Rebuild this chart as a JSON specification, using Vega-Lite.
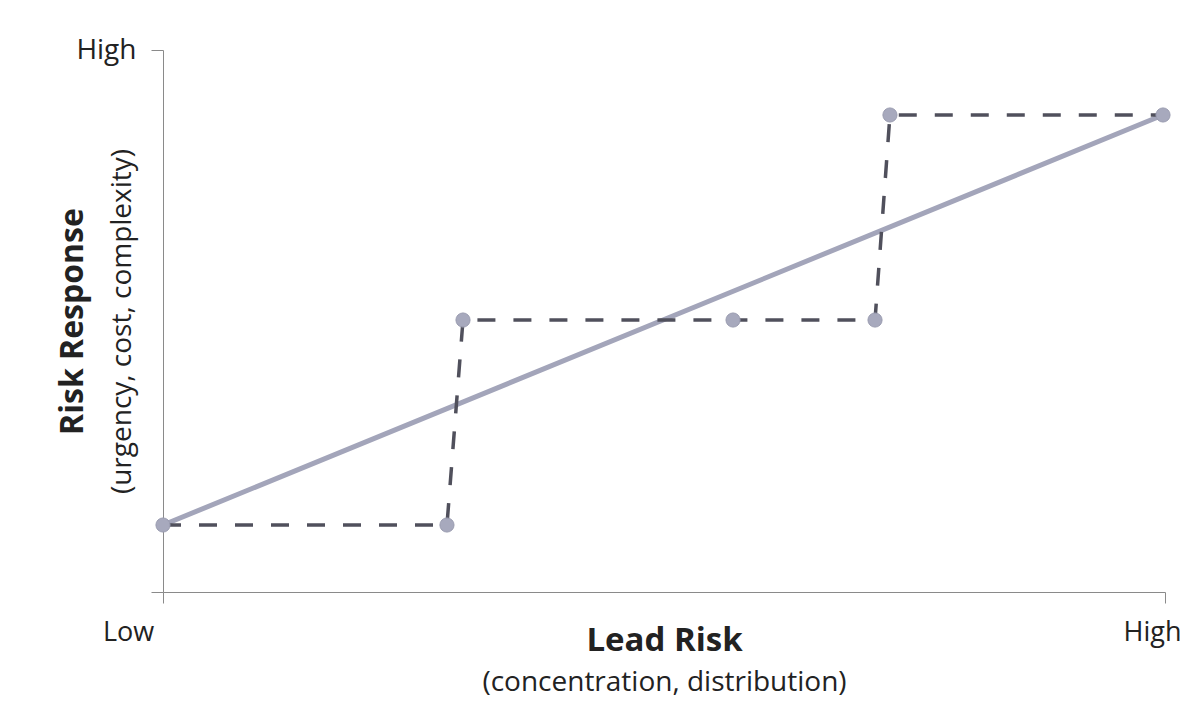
{
  "$schema": "https://vega.github.io/schema/vega-lite/v6.json",
  "width": 1002,
  "height": 542,
  "autosize": {"type": "none"},
  "padding": {"left": 163, "top": 50, "right": 23, "bottom": 135},
  "background": "#ffffff",
  "config": {
    "view": {"stroke": null},
    "font": "Open Sans",
    "axis": {"grid": false, "domainColor": "#8a8a8a", "tickColor": "#8a8a8a", "labelFont": "Open Sans", "titleFont": "Open Sans", "labelColor": "#222222", "titleColor": "#222222"}
  },
  "datasets": {
    "trend": [
      {"lead": 0.0, "response": 0.1236},
      {"lead": 0.998, "response": 0.8801}
    ],
    "step": [
      {"order": 1, "lead": 0.0, "response": 0.1236},
      {"order": 2, "lead": 0.2834, "response": 0.1236},
      {"order": 3, "lead": 0.2994, "response": 0.5018},
      {"order": 4, "lead": 0.5689, "response": 0.5018},
      {"order": 5, "lead": 0.7106, "response": 0.5018},
      {"order": 6, "lead": 0.7255, "response": 0.8801},
      {"order": 7, "lead": 0.998, "response": 0.8801}
    ]
  },
  "resolve": {"axis": {"x": "independent", "y": "independent"}},
  "layer": [
    {
      "data": {"name": "trend"},
      "mark": {"type": "line", "color": "#a3a5ba", "strokeWidth": 5, "strokeCap": "round"},
      "encoding": {
        "x": {
          "field": "lead", "type": "quantitative",
          "scale": {"domain": [0, 1], "nice": false, "zero": false},
          "axis": {
            "orient": "bottom",
            "values": [0, 1],
            "labelExpr": "datum.value == 0 ? 'Low' : 'High'",
            "labelFontSize": 27,
            "labelAlign": "center",
            "labelBaseline": "alphabetic",
            "labelPadding": 37,
            "labelOffset": {"expr": "datum.value == 0 ? -35 : -13"},
            "tickSize": 11,
            "labelFlush": false,
            "labelOverlap": false,
            "title": "Lead Risk",
            "titleFontSize": 33,
            "titleFontWeight": "bold",
            "titleBaseline": "alphabetic",
            "titleAnchor": "middle",
            "titleX": 501,
            "titleY": 58
          }
        },
        "y": {
          "field": "response", "type": "quantitative",
          "scale": {"domain": [0, 1], "nice": false, "zero": false},
          "axis": {
            "orient": "left",
            "values": [0, 1],
            "labelExpr": "datum.value == 1 ? 'High' : ''",
            "labelFontSize": 28,
            "labelBaseline": "alphabetic",
            "labelOffset": 8,
            "labelPadding": 15,
            "tickSize": 12,
            "labelFlush": false,
            "labelOverlap": false,
            "title": "Risk Response",
            "titleFontSize": 32,
            "titleFontWeight": "bold",
            "titleAngle": -90,
            "titleBaseline": "alphabetic",
            "titleAnchor": "middle",
            "titleX": -81,
            "titleY": 271
          }
        }
      }
    },
    {
      "data": {"name": "step"},
      "mark": {"type": "line", "color": "#50505c", "strokeWidth": 3.5, "strokeDash": [18, 18]},
      "encoding": {
        "order": {"field": "order", "type": "quantitative"},
        "x": {
          "field": "lead", "type": "quantitative",
          "axis": {
            "orient": "bottom",
            "domain": false, "ticks": false, "labels": false,
            "title": "(concentration, distribution)",
            "titleFontSize": 28,
            "titleFontWeight": "normal",
            "titleBaseline": "alphabetic",
            "titleAnchor": "middle",
            "titleX": 501,
            "titleY": 98
          }
        },
        "y": {
          "field": "response", "type": "quantitative",
          "axis": {
            "orient": "left",
            "domain": false, "ticks": false, "labels": false,
            "title": "(urgency, cost, complexity)",
            "titleFontSize": 28,
            "titleFontWeight": "normal",
            "titleAngle": -90,
            "titleBaseline": "alphabetic",
            "titleAnchor": "middle",
            "titleX": -33,
            "titleY": 271
          }
        }
      }
    },
    {
      "data": {"name": "step"},
      "mark": {"type": "point", "filled": true, "shape": "circle", "size": 200, "color": "#a7a9bd", "opacity": 1, "stroke": "#9a9cb0", "strokeWidth": 1},
      "encoding": {
        "x": {"field": "lead", "type": "quantitative", "axis": null},
        "y": {"field": "response", "type": "quantitative", "axis": null}
      }
    }
  ]
}
